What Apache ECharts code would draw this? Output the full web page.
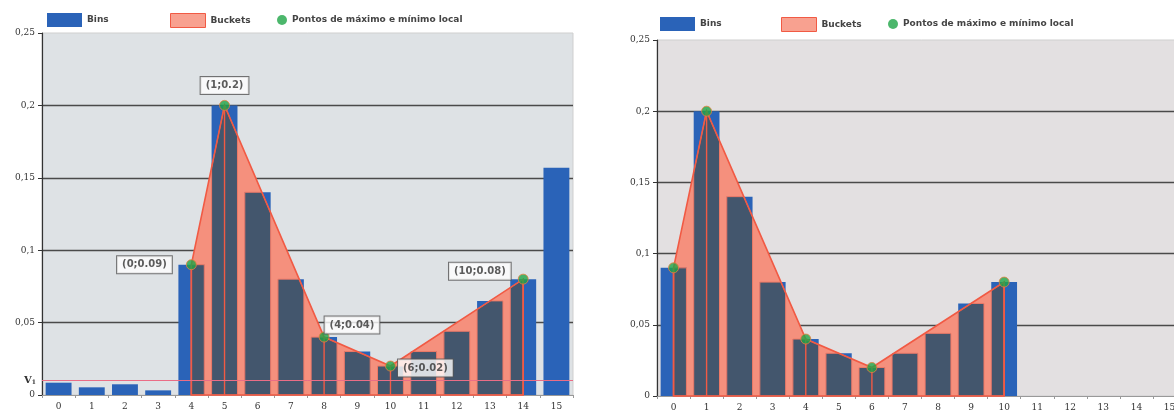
<!DOCTYPE html>
<html>
<head>
<meta charset="utf-8">
<script src="https://cdn.jsdelivr.net/npm/echarts@6/dist/echarts.min.js"></script>
<style>
  html, body { margin: 0; padding: 0; background: #fff; overflow: hidden; width: 1174px; height: 413px; }
  #full { position: absolute; left: 0; top: 0; width: 587px; height: 413px; }
  #cut  { position: absolute; left: 587px; top: 0; width: 620px; height: 413px; }
</style>
</head>
<body>
<div id="full"></div>
<div id="cut"></div>
<script>
// Histogram bins (16 bins) and the bucket vertices (local maxima / minima)
const binLabels = ['0', '1', '2', '3', '4', '5', '6', '7', '8', '9', '10', '11', '12', '13', '14', '15'];
const yTicks = [0, 0.05, 0.1, 0.15, 0.2, 0.25];

// Full histogram, including the small bins under the V1 threshold
const binsFull = [0.0085, 0.0053, 0.0074, 0.0032, 0.09, 0.2, 0.14, 0.08, 0.04, 0.03, 0.02, 0.03, 0.044, 0.065, 0.08, 0.157];
const thresholdV1 = 0.009;
const peaksFullIdx = [4, 5, 8, 10, 14];
const peaksFullVal = [0.09, 0.2, 0.04, 0.02, 0.08];

// Histogram after cutting the bins under V1 and shifting to the start
const binsCut = [0.09, 0.2, 0.14, 0.08, 0.04, 0.03, 0.02, 0.03, 0.044, 0.065, 0.08, null, null, null, null, null];
const peaksCutIdx = [0, 1, 4, 6, 10];
const peaksCutVal = [0.09, 0.2, 0.04, 0.02, 0.08];

const NAME_BINS = 'Bins';
const NAME_BUCKETS = 'Buckets';
const NAME_POINTS = 'Pontos de máximo e mínimo local';

const C_BLUE = '#2a63b8';
const C_DARK = '#43566d';
const C_SALMON = '#f5907d';
const C_RED = '#f15a44';
const C_GREEN = '#1fa547';
const BAR_FRAC = 0.78;

// piecewise linear outline through the bucket vertices
function outlineAt(x, idx, vals) {
  for (let k = 0; k < idx.length - 1; k++) {
    if (x <= idx[k + 1]) {
      return vals[k] + (vals[k + 1] - vals[k]) * (x - idx[k]) / (idx[k + 1] - idx[k]);
    }
  }
  return vals[vals.length - 1];
}

// part of bar i (height h) that lies inside the bucket polygon, in data units
function barInsideBuckets(i, h, idx, vals) {
  const xa = idx[0], xb = idx[idx.length - 1];
  const l = Math.max(i - BAR_FRAC / 2, xa), r = Math.min(i + BAR_FRAC / 2, xb);
  if (!(h > 0) || l >= r) return null;
  const xs = [l, r];
  idx.forEach(x => { if (x > l && x < r) xs.push(x); });
  for (let k = 0; k < idx.length - 1; k++) {
    const a = vals[k] - h, b = vals[k + 1] - h;
    if (a * b < 0) {
      const x = idx[k] + (a / (a - b)) * (idx[k + 1] - idx[k]);
      if (x > l && x < r) xs.push(x);
    }
  }
  xs.sort((p, q) => p - q);
  const pts = [[l, 0]];
  xs.forEach(x => pts.push([x, Math.min(h, outlineAt(x, idx, vals))]));
  pts.push([r, 0]);
  return pts;
}

// category index (possibly fractional) + value -> pixel
function toPx(api, x, v) {
  const c0 = api.coord([0, 0]);
  const c1 = api.coord([1, 0]);
  const y = api.coord([0, v])[1];
  return [c0[0] + x * (c1[0] - c0[0]), y];
}

function axisFont() {
  return { fontFamily: 'DejaVu Serif', fontSize: 9, color: '#333' };
}

function buildOption(cfg) {
  const { bins, pIdx, pVal, grid, legendPos, showLabels, v1, bg } = cfg;
  const first = pIdx[0];

  const labelPlacement = [
    { position: 'left', distance: 14, offset: [0, 0] },
    { position: 'top', distance: 6, offset: [0, 0] },
    { position: 'right', distance: 5, offset: [-10, -12] },
    { position: 'right', distance: 2, offset: [0, 2] },
    { position: 'left', distance: 7, offset: [0, -8] }
  ];

  const series = [
    {
      name: NAME_BUCKETS,
      type: 'custom',
      z: 1,
      silent: true,
      data: [[0, 0]],
      renderItem: function (params, api) {
        const pts = [toPx(api, pIdx[0], 0)];
        pIdx.forEach((x, k) => pts.push(toPx(api, x, pVal[k])));
        pts.push(toPx(api, pIdx[pIdx.length - 1], 0));
        return { type: 'polygon', shape: { points: pts }, style: { fill: C_SALMON } };
      }
    },
    {
      name: NAME_BINS,
      type: 'bar',
      z: 2,
      barWidth: (BAR_FRAC * 100) + '%',
      itemStyle: { color: C_BLUE },
      data: bins
    },
    {
      name: NAME_BUCKETS,
      type: 'custom',
      z: 3,
      silent: true,
      data: bins.map((v, i) => [i, v == null ? 0 : v]),
      renderItem: function (params, api) {
        const i = api.value(0), h = api.value(1);
        const shape = barInsideBuckets(i, h, pIdx, pVal);
        if (!shape) return null;
        return {
          type: 'polygon',
          shape: { points: shape.map(p => toPx(api, p[0], p[1])) },
          style: { fill: C_DARK, stroke: '#f07a66', lineWidth: 1 }
        };
      }
    },
    {
      name: NAME_BUCKETS,
      type: 'custom',
      z: 4,
      silent: true,
      data: [[0, 0]],
      renderItem: function (params, api) {
        const children = [];
        const pts = [toPx(api, pIdx[0], 0)];
        pIdx.forEach((x, k) => pts.push(toPx(api, x, pVal[k])));
        pts.push(toPx(api, pIdx[pIdx.length - 1], 0));
        children.push({ type: 'polygon', shape: { points: pts }, style: { fill: null, stroke: C_RED, lineWidth: 1.6 } });
        pIdx.forEach((x, k) => {
          const top = toPx(api, x, pVal[k]), bot = toPx(api, x, 0);
          children.push({ type: 'line', shape: { x1: top[0], y1: top[1], x2: bot[0], y2: bot[1] }, style: { stroke: C_RED, lineWidth: 1.4 } });
        });
        return { type: 'group', children: children };
      }
    },
    {
      name: NAME_POINTS,
      type: 'scatter',
      z: 5,
      symbol: 'circle',
      symbolSize: 10,
      itemStyle: { color: C_GREEN, borderColor: '#e9803f', borderWidth: 1 },
      data: pIdx.map((x, k) => {
        const lp = labelPlacement[k];
        return {
          value: [x, pVal[k]],
          label: showLabels ? {
            show: true,
            position: lp.position,
            distance: lp.distance,
            offset: lp.offset,
            formatter: '(' + (x - first) + ';' + pVal[k] + ')'
          } : { show: false }
        };
      }),
      label: {
        fontFamily: 'DejaVu Sans',
        fontWeight: 'bold',
        fontSize: 10,
        color: '#333',
        backgroundColor: '#fff',
        borderColor: '#555',
        borderWidth: 1,
        padding: [3, 5, 2, 5],
        lineHeight: 12
      },
      markLine: v1 == null ? undefined : {
        silent: true,
        symbol: 'none',
        lineStyle: { color: '#ea6d86', width: 1, type: 'solid' },
        label: {
          position: 'start',
          distance: 6,
          formatter: '{v|V}{s|1}',
          rich: {
            v: { fontFamily: 'DejaVu Serif', fontWeight: 'bold', fontSize: 10, color: '#333' },
            s: { fontFamily: 'DejaVu Serif', fontWeight: 'bold', fontSize: 6, color: '#333', verticalAlign: 'bottom', padding: [4, 0, 0, 0] }
          }
        },
        data: [{ yAxis: v1 }]
      }
    }
  ];

  const legendText = { fontFamily: 'DejaVu Sans', fontWeight: 'bold', fontSize: 9, color: '#444' };

  return {
    animation: false,
    legend: [
      {
        left: legendPos[0][0], top: legendPos[0][1], padding: 0, selectedMode: false,
        itemWidth: 35, itemHeight: 14, textStyle: legendText,
        data: [{ name: NAME_BINS, icon: 'rect', itemStyle: { color: C_BLUE } }]
      },
      {
        left: legendPos[1][0], top: legendPos[1][1], padding: 0, selectedMode: false,
        itemWidth: 35, itemHeight: 14, textStyle: legendText,
        data: [{ name: NAME_BUCKETS, icon: 'rect', itemStyle: { color: '#f8a190', borderColor: C_RED, borderWidth: 1 } }]
      },
      {
        left: legendPos[2][0], top: legendPos[2][1], padding: 0, selectedMode: false,
        itemWidth: 10, itemHeight: 10, textStyle: legendText,
        data: [{ name: NAME_POINTS, icon: 'circle', itemStyle: { color: C_GREEN, borderWidth: 0 } }]
      }
    ],
    grid: Object.assign({ show: true, backgroundColor: bg, borderColor: '#cfcfcf', borderWidth: 1 }, grid),
    xAxis: {
      type: 'category',
      data: binLabels,
      axisLine: { lineStyle: { color: '#999', width: 1 } },
      axisTick: { show: true, length: 3, lineStyle: { color: '#999' } },
      axisLabel: Object.assign({ margin: 7, interval: 0 }, axisFont()),
      splitLine: { show: false }
    },
    yAxis: {
      type: 'value',
      min: yTicks[0],
      max: yTicks[yTicks.length - 1],
      interval: yTicks[1] - yTicks[0],
      axisLine: { show: true, lineStyle: { color: '#333', width: 1.2 } },
      axisTick: { show: true, length: 4, lineStyle: { color: '#333' } },
      axisLabel: Object.assign({ margin: 7, formatter: v => String(+v.toFixed(2)).replace('.', ',') }, axisFont()),
      splitLine: { show: true, showMinLine: false, showMaxLine: false, lineStyle: { color: '#4a4a4a', width: 1.3 } }
    },
    series: series
  };
}

const chartFull = echarts.init(document.getElementById('full'), null, { renderer: 'canvas' });
chartFull.setOption(buildOption({
  bins: binsFull,
  pIdx: peaksFullIdx,
  pVal: peaksFullVal,
  grid: { left: 42, right: 14, top: 33, bottom: 18 },
  legendPos: [[47, 13], [170, 13], [277, 15]],
  showLabels: true,
  v1: thresholdV1,
  bg: '#dee2e5'
}));

const chartCut = echarts.init(document.getElementById('cut'), null, { renderer: 'canvas' });
chartCut.setOption(buildOption({
  bins: binsCut,
  pIdx: peaksCutIdx,
  pVal: peaksCutVal,
  grid: { left: 70, right: 21, top: 40, bottom: 17 },
  legendPos: [[73, 17], [194, 17], [301, 19]],
  showLabels: false,
  v1: null,
  bg: '#e3e0e1'
}));
</script>
</body>
</html>
